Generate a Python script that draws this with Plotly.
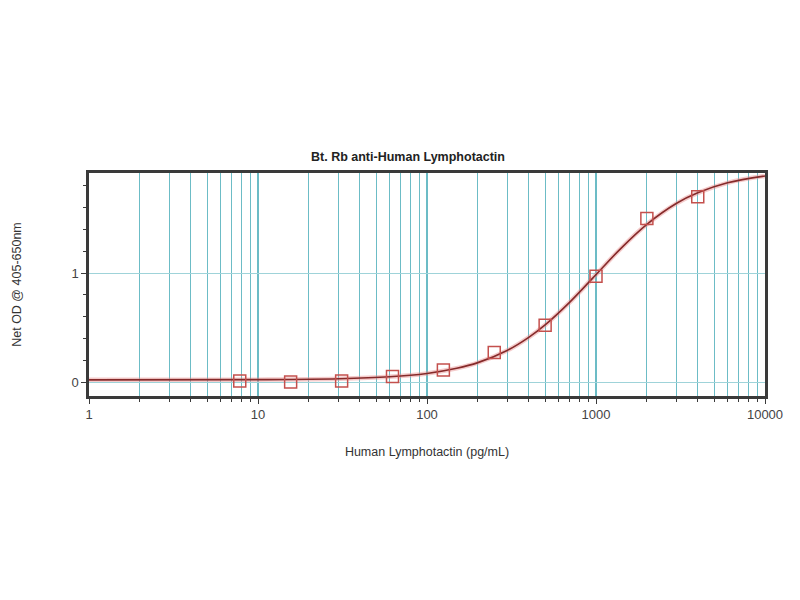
import plotly.graph_objects as go

# Standards (pg/mL) and measured Net OD
conc = [7.8, 15.6, 31.25, 62.5, 125, 250, 500, 1000, 2000, 4000]
od = [0.01, 0.0, 0.01, 0.05, 0.11, 0.27, 0.52, 0.97, 1.50, 1.70]

# Fitted curve, values
curve_x = [1, 10, 30, 60, 100, 150, 200, 300, 400, 500, 700, 1000, 1400, 2000, 3000, 4000, 6000, 10000]
curve_y = [0.02, 0.022, 0.030, 0.048, 0.079, 0.126, 0.178, 0.292, 0.41, 0.524, 0.733, 0.985, 1.224, 1.446, 1.639, 1.735, 1.827, 1.89]

x_ticks = [1, 10, 100, 1000, 10000]
x_labels = ["1", "10", "100", "1000", "10000"]

title = "Bt. Rb anti-Human Lymphotactin"
x_title = "Human Lymphotactin (pg/mL)"
y_title = "Net OD @ 405-650nm"

grid_col = "#6cbcc6"
frame_col = "#3a3a3a"

fig = go.Figure()
fig.add_trace(go.Scatter(x=curve_x, y=curve_y, mode="lines",
                         line=dict(color="rgba(230,140,140,0.45)", width=4.5, shape="spline"),
                         showlegend=False, hoverinfo="skip"))
fig.add_trace(go.Scatter(x=curve_x, y=curve_y, mode="lines", line=dict(color="#862a2a", width=1.6, shape="spline"),
                         showlegend=False, hoverinfo="skip"))
fig.add_trace(go.Scatter(x=conc, y=od, mode="markers",
                         marker=dict(symbol="square-open", size=12, color="#c4504d", line=dict(width=1.5)),
                         showlegend=False))

fig.update_layout(
    width=800, height=600,
    margin=dict(l=81, r=43, t=165, b=212),
    paper_bgcolor="white", plot_bgcolor="white",
    font=dict(family="Liberation Sans, Arial, sans-serif", size=12, color="#333333"),
    title=dict(text="<b>" + title + "</b>", x=0.5, xanchor="center", y=1 - 149 / 600, yanchor="middle",
               font=dict(size=12.5, color="#222222")),
)
fig.update_xaxes(
    type="log", range=[0, 4], tickvals=x_ticks, ticktext=x_labels,
    showgrid=True, gridcolor=grid_col, gridwidth=1.6,
    minor=dict(dtick="D1", showgrid=True, gridcolor=grid_col, gridwidth=1.3, ticks="outside", ticklen=3, tickcolor=frame_col),
    ticks="outside", ticklen=5, tickcolor=frame_col,
    showline=True, linecolor=frame_col, linewidth=2.5, mirror=True,
    zeroline=False, automargin=False,
    tickfont=dict(size=13, color="#444444"),
    title=dict(text=x_title, standoff=26, font=dict(size=12.5)),
)
fig.update_yaxes(
    range=[-0.128, 1.917], tickvals=[0, 1], ticktext=["0", "1"],
    showgrid=True, gridcolor="#9fd3d9", gridwidth=1,
    minor=dict(dtick=0.2, ticks="outside", ticklen=3, tickcolor=frame_col, showgrid=False),
    ticks="outside", ticklen=5, tickcolor=frame_col,
    showline=True, linecolor=frame_col, linewidth=2.5, mirror=True,
    zeroline=False, automargin=False,
    tickfont=dict(size=13, color="#444444"),
    title=dict(text=y_title, standoff=48, font=dict(size=12.5)),
)

fig.write_html("out.html")
